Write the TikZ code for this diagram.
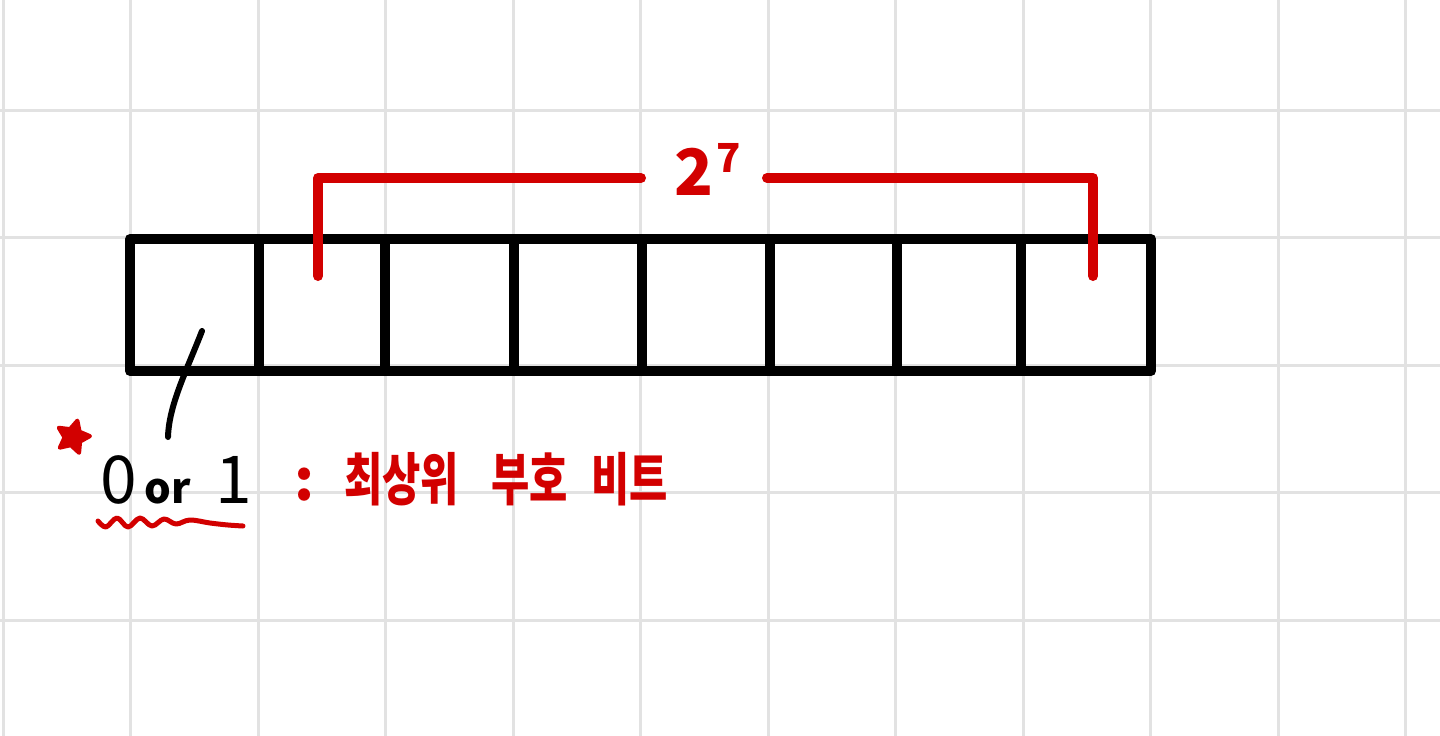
\documentclass[tikz,border=0pt]{standalone}
\usepackage{fontspec}
\usepackage{graphicx}
\newfontfamily\kr{Noto Sans CJK KR}
\definecolor{pen}{HTML}{D20000}
\definecolor{gridc}{HTML}{E2E2E2}
\tikzset{
  gridline/.style={draw=gridc, line width=3},
  boxline/.style={draw=black, line width=10, line join=round, line cap=round},
  redline/.style={draw=pen, line width=10, line join=round, line cap=round},
  leader/.style={draw=black, line width=6, line cap=round},
  wavy/.style={draw=pen, line width=5, line cap=round, line join=round},
  txt/.style={inner sep=0, anchor=base west},
}
\begin{document}
\begin{tikzpicture}[x=1pt,y=-1pt]
\useasboundingbox (0,0) rectangle (1440,736);
\fill[white] (0,0) rectangle (1440,736);
% grid
\foreach \i in {0,...,11} \draw[gridline] ({3+127.5*\i},0) -- ({3+127.5*\i},736);
\foreach \j in {0,...,4} \draw[gridline] (0,{110+127.5*\j}) -- (1440,{110+127.5*\j});
% register of 8 cells
\draw[boxline] (130,239) rectangle (1151,371);
\foreach \x in {259,385,514,642,770,897,1021} \draw[boxline] (\x,239) -- (\x,371);
% red bracket with label
\node[txt, text=pen] (exp) at (674,195) {\kr\bfseries\fontsize{64}{64}\selectfont 2\hspace{3pt}\raisebox{23pt}{\fontsize{40}{40}\selectfont 7}};
\coordinate (bL) at (318,276);
\coordinate (cL) at (318,178);
\coordinate (gL) at (641,178);
\coordinate (gR) at (767,178);
\coordinate (cR) at (1093,178);
\coordinate (bR) at (1093,276);
\draw[redline] (bL) -- (cL) -- (gL);
\draw[redline] (gR) -- (cR) -- (bR);
% leader line from first cell
\coordinate (l1) at (202,331);
\coordinate (l2) at (168,437);
\draw[leader] (l1) .. controls (186,372) and (169,405) .. (l2);
% star
\fill[pen, draw=pen, line width=4, line join=round, shift={(73,437)}]
  (-75:17) -- (-39:8.5) -- (-3:17) -- (33:8.5) -- (69:17) -- (105:8.5)
  -- (141:17) -- (177:8.5) -- (213:17) -- (249:8.5) -- cycle;
% 0 or 1
\node[txt] (bit) at (100,503) {\kr\fontsize{66}{66}\selectfont 0\hspace{8pt}{\bfseries\fontsize{42}{42}\selectfont or}\hspace{24pt}1};
% wavy underline
\draw[wavy] plot[smooth, tension=0.6] coordinates {(98,521) (106,527) (117,518) (128,527) (140,518) (152,526) (164,519) (176,524) (190,520) (210,523) (228,525) (243,526)};
% meaning
\node[txt, text=pen] (msb) at (294,500) {\kr\bfseries\fontsize{57}{57}\selectfont :\hspace{30pt}\scalebox{0.73}[1]{최상위\hspace{44pt}부호\hspace{32pt}비트}};
\end{tikzpicture}
\end{document}
